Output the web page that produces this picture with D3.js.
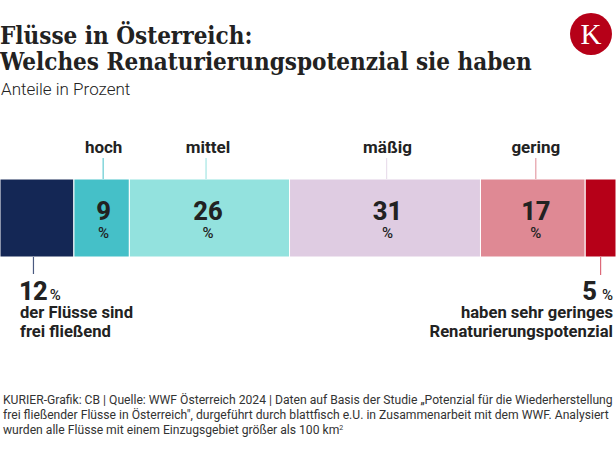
<!DOCTYPE html>
<html>
<head>
<meta charset="utf-8">
<script src="https://cdn.jsdelivr.net/npm/d3@7"></script>
<style>
    html, body { margin: 0; padding: 0; background: #fff; }
    text { font-family: Roboto, sans-serif; fill: #222; }
</style>
</head>
<body>
<div id="chart"></div>
<script>
const titleLines = ["Flüsse in Österreich:", "Welches Renaturierungspotenzial sie haben"];
const subtitle = "Anteile in Prozent";
const categories = ["frei fließend", "hoch", "mittel", "mäßig", "gering", "sehr gering"];
const values = [12, 9, 26, 31, 17, 5];
const colors = ["#142755", "#45c0c8", "#93e2de", "#dfcce2", "#df8994", "#b60018"];
const tickColors = ["#4a5a80", "#45c0c8", "#93e2de", "#e5d8e8", "#df8994", "#dd6a7a"];
const topLabels = ["hoch", "mittel", "mäßig", "gering"];
const leftNote = ["der Flüsse sind", "frei fließend"];
const rightNote = ["haben sehr geringes", "Renaturierungspotenzial"];
const sourceLines = [
    "KURIER-Grafik: CB | Quelle: WWF Österreich 2024 | Daten auf Basis der Studie „Potenzial für die Wiederherstellung",
    "frei fließender Flüsse in Österreich\", durgeführt durch blattfisch e.U. in Zusammenarbeit mit dem WWF. Analysiert",
    "wurden alle Flüsse mit einem Einzugsgebiet größer als 100 km"
];

const width = 616, height = 455;
const barTop = 179, barBottom = 257;

// the original labels sit a little off the segment centres
const labelNudge = {"hoch": 2, "mittel": -1.5, "mäßig": 2.5, "gering": 3};
const tickNudge = {"hoch": 1.5, "mittel": -3.4, "mäßig": 1.7, "gering": 3};

const svg = d3.select("#chart").append("svg")
    .attr("width", width)
    .attr("height", height)
    .style("display", "block");

// title block
const title = svg.append("text")
    .style("font-family", "'DejaVu Serif Condensed', 'DejaVu Serif', serif")
    .style("font-weight", 700)
    .style("font-size", "24px");

title.selectAll("tspan")
    .data(titleLines)
    .enter().append("tspan")
    .attr("x", 0)
    .attr("y", (d, i) => 44 + i * 26)
    .text(d => d);

svg.append("text")
    .attr("x", 1)
    .attr("y", 95)
    .style("font-size", "17px")
    .style("font-weight", 300)
    .text(subtitle);

// logo
svg.append("circle").attr("cx", 591).attr("cy", 34).attr("r", 21).attr("fill", "#b60018");
svg.append("text")
    .attr("x", 591)
    .attr("y", 44)
    .attr("text-anchor", "middle")
    .style("font-family", "'Liberation Serif', serif")
    .style("font-size", "29px")
    .style("fill", "#fff")
    .text("K");

// stacked bar
let running = 0;
const segments = values.map((v, i) => {
    const seg = {name: categories[i], value: v, start: running, end: running + v, color: colors[i], tick: tickColors[i]};
    running += v;
    return seg;
});

const x = d3.scaleLinear().domain([0, d3.sum(values)]).range([0, width]);
const mid = d => (x(d.start) + x(d.end)) / 2;
const labelX = d => mid(d) + labelNudge[d.name];
const tickX = d => mid(d) + tickNudge[d.name];

svg.selectAll(".seg")
    .data(segments)
    .enter().append("rect")
    .attr("class", "seg")
    .attr("x", d => x(d.start))
    .attr("y", barTop)
    .attr("width", d => x(d.end) - x(d.start))
    .attr("height", barBottom - barTop)
    .attr("fill", d => d.color)
    .attr("stroke", "#fff")
    .attr("stroke-width", 1);

const labelled = segments.filter(d => topLabels.includes(d.name));

svg.selectAll(".topTick")
    .data(labelled)
    .enter().append("line")
    .attr("class", "topTick")
    .attr("x1", tickX).attr("x2", tickX)
    .attr("y1", 158).attr("y2", barTop)
    .attr("stroke", d => d.tick);

svg.selectAll(".topLabel")
    .data(labelled)
    .enter().append("text")
    .attr("class", "topLabel")
    .attr("x", labelX)
    .attr("y", 153)
    .attr("text-anchor", "middle")
    .style("font-size", "17px")
    .style("font-weight", 700)
    .text(d => d.name);

// value and % stacked in one text
const vals = svg.selectAll(".val")
    .data(labelled)
    .enter().append("text")
    .attr("class", "val")
    .attr("text-anchor", "middle");

vals.append("tspan")
    .attr("x", labelX)
    .attr("y", 220)
    .style("font-size", "25.5px")
    .style("font-weight", 800)
    .text(d => d.value);

vals.append("tspan")
    .attr("x", labelX)
    .attr("y", 238)
    .style("font-size", "15px")
    .style("font-weight", 500)
    .text("%");

// outer annotations
const first = segments[0], last = segments[segments.length - 1];

svg.append("line")
    .attr("x1", mid(first) - 3.5).attr("x2", mid(first) - 3.5)
    .attr("y1", barBottom).attr("y2", 274)
    .attr("stroke", first.tick).attr("stroke-width", 1.2);
svg.append("line")
    .attr("x1", mid(last)).attr("x2", mid(last))
    .attr("y1", barBottom).attr("y2", 275)
    .attr("stroke", last.tick).attr("stroke-width", 1.2);

const leftVal = svg.append("text");
leftVal.append("tspan").attr("x", 19).attr("y", 300)
    .style("font-size", "25.5px").style("font-weight", 800).style("letter-spacing", "-0.8px").text(first.value);
leftVal.append("tspan").attr("dx", 3)
    .style("font-size", "15px").style("font-weight", 500).text("%");
leftVal.selectAll(".note")
    .data(leftNote)
    .enter().append("tspan")
    .attr("class", "note")
    .attr("x", 20)
    .attr("y", (d, i) => 318 + i * 19)
    .style("font-size", "16.6px")
    .style("font-weight", 700)
    .text(d => d);

const rightVal = svg.append("text").attr("text-anchor", "end");
rightVal.append("tspan").attr("x", 613).attr("y", 300)
    .style("font-size", "25.5px").style("font-weight", 800).text(last.value)
    .append("tspan").attr("dx", 5)
    .style("font-size", "15px").style("font-weight", 500).text("%");
rightVal.selectAll(".note")
    .data(rightNote)
    .enter().append("tspan")
    .attr("class", "note")
    .attr("x", 613)
    .attr("y", (d, i) => 318 + i * 19)
    .style("font-size", "16.6px")
    .style("font-weight", 700)
    .text(d => d);

// source note
const source = svg.selectAll(".source")
    .data(sourceLines)
    .enter().append("text")
    .attr("class", "source")
    .attr("x", 3)
    .attr("y", (d, i) => 403.5 + i * 15)
    .style("font-size", "12.15px")
    .style("fill", "#333")
    .text(d => d);

source.filter((d, i) => i === 2).append("tspan")
    .attr("dy", -4)
    .style("font-size", "7px")
    .text("2");
</script>
</body>
</html>
